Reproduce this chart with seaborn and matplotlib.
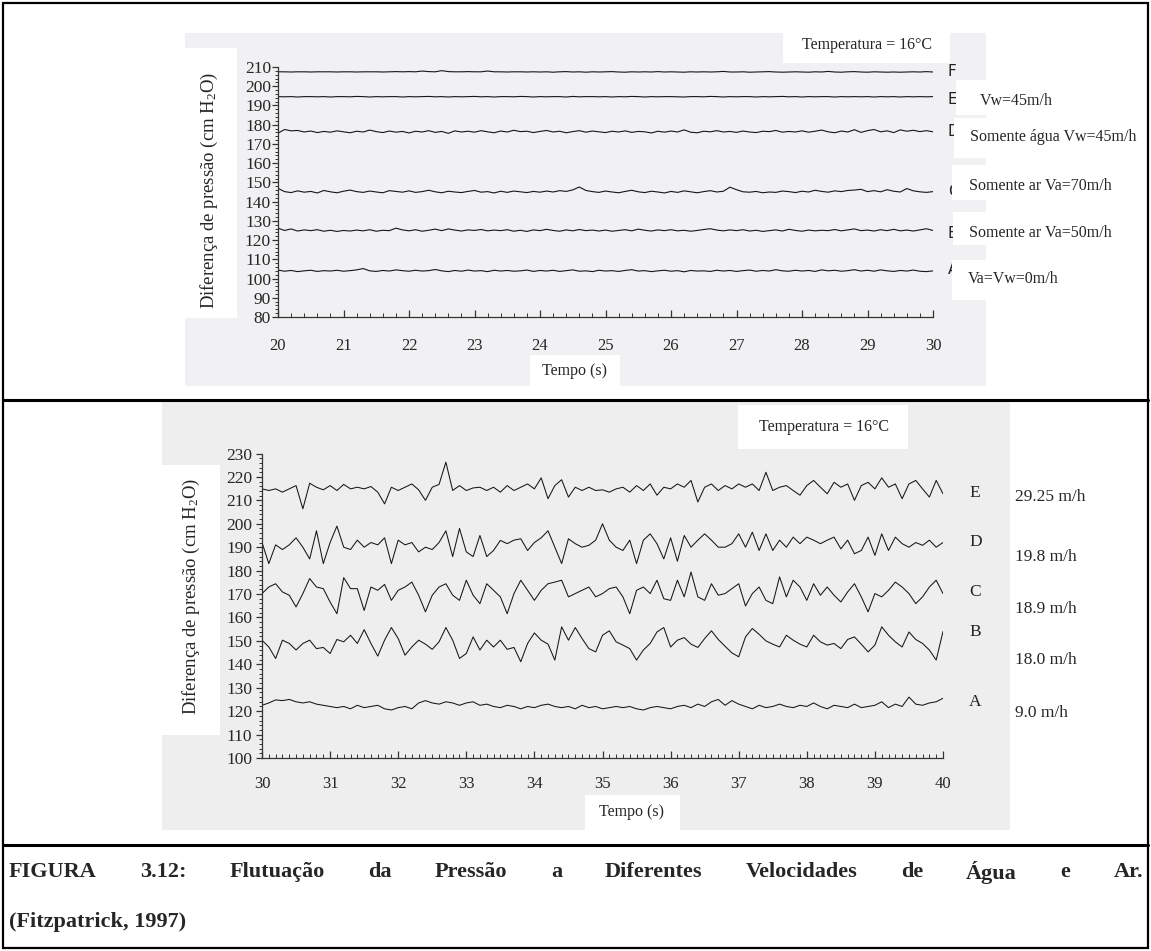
import numpy as np
import pandas as pd
import matplotlib
matplotlib.use("Agg")
import matplotlib.pyplot as plt
import seaborn as sns
from matplotlib.patches import Rectangle
from matplotlib.ticker import MultipleLocator

# ---------------- data ----------------
top_time = np.round(np.arange(20.0, 30.001, 0.1), 1)
top_F = [207.5, 207.5, 207.4, 207.5, 207.5, 207.4, 207.5, 207.5, 207.5, 207.4,
         207.5, 207.5, 207.4, 207.5, 207.5, 207.5, 207.4, 207.5, 207.6, 207.5,
         207.6, 207.5, 207.9, 207.6, 207.5, 208.1, 207.6, 207.5, 207.5, 207.6,
         207.5, 207.5, 207.9, 207.5, 207.5, 207.4, 207.5, 207.5, 207.4, 207.5,
         207.4, 207.5, 207.3, 207.5, 207.6, 207.4, 207.5, 207.3, 207.5, 207.4,
         207.5, 207.6, 207.4, 207.3, 207.5, 207.4, 207.5, 207.4, 207.6, 207.4,
         207.5, 207.4, 207.3, 207.5, 207.4, 207.5, 207.4, 207.5, 207.7, 207.4,
         207.4, 207.5, 207.3, 207.4, 207.5, 207.6, 207.4, 207.3, 207.4, 207.5,
         207.4, 207.3, 207.5, 207.4, 207.7, 207.4, 207.3, 207.5, 207.6, 207.4,
         207.3, 207.5, 207.4, 207.3, 207.4, 207.3, 207.4, 207.5, 207.4, 207.6,
         207.4]
top_E = [194.6, 194.5, 194.6, 194.4, 194.6, 194.6, 194.5, 194.6, 194.4, 194.6,
         194.6, 194.5, 194.7, 194.6, 194.4, 194.6, 194.5, 194.6, 194.6, 194.4,
         194.6, 194.5, 194.6, 194.7, 194.5, 194.6, 194.4, 194.6, 194.5, 194.6,
         194.7, 194.5, 194.6, 194.4, 194.6, 194.6, 194.5, 194.7, 194.6, 194.4,
         194.6, 194.5, 194.6, 194.6, 194.4, 194.7, 194.5, 194.6, 194.6, 194.5,
         194.6, 194.4, 194.6, 194.5, 194.7, 194.6, 194.4, 194.6, 194.5, 194.6,
         194.6, 194.5, 194.4, 194.6, 194.6, 194.5, 194.7, 194.6, 194.4, 194.6,
         194.5, 194.6, 194.6, 194.4, 194.6, 194.5, 194.6, 194.7, 194.5, 194.6,
         194.4, 194.6, 194.5, 194.6, 194.6, 194.4, 194.6, 194.5, 194.6, 194.5,
         194.6, 194.4, 194.6, 194.5, 194.6, 194.4, 194.6, 194.5, 194.6, 194.5,
         194.6]
top_D = [175.6, 177.5, 176.8, 177.0, 176.2, 176.7, 175.9, 176.5, 176.1, 176.8,
         176.3, 175.8, 176.6, 176.2, 177.2, 176.4, 175.9, 176.7, 176.1, 176.5,
         175.7, 176.6, 176.2, 176.9, 176.0, 176.5, 175.5, 176.8, 176.2, 176.6,
         176.1, 176.9, 176.3, 175.8, 176.7, 176.2, 177.1, 176.4, 176.6, 175.9,
         176.5, 177.0, 176.2, 176.6, 175.8, 176.4, 176.9, 176.1, 176.7, 176.3,
         175.9, 176.6, 176.2, 176.8, 176.0, 176.5, 176.3, 175.7, 176.6, 176.1,
         176.7, 176.2, 177.3, 176.1, 175.8, 176.6, 176.3, 176.9, 176.2, 176.5,
         176.0, 176.7, 176.2, 175.9, 176.6, 176.4, 177.0, 176.1, 176.5, 176.2,
         176.8, 176.1, 176.6, 177.2, 176.3, 175.8, 176.7, 176.2, 177.4, 176.0,
         176.9, 177.5, 176.3, 176.8, 175.9, 177.3, 176.6, 177.1, 176.4, 176.9,
         176.3]
top_C = [146.9, 145.2, 144.7, 145.6, 144.9, 145.3, 144.5, 145.8, 145.1, 144.6,
         145.4, 146.0, 145.2, 144.8, 145.5, 145.0, 144.6, 145.7, 145.3, 144.9,
         145.6, 144.8, 145.2, 145.9, 145.1, 144.6, 145.4, 145.0, 144.7, 145.3,
         145.8, 144.9, 145.2, 144.5, 145.4, 144.8, 145.5, 145.1, 144.7, 145.3,
         144.9, 145.5, 145.0, 145.7, 145.3, 146.1, 147.6, 145.8, 145.2, 144.8,
         145.5, 145.0, 144.6, 145.3, 145.9, 145.1, 144.7, 145.4, 145.0, 144.5,
         145.3, 144.8, 145.6, 145.1, 144.6, 145.2, 145.7, 145.0, 145.4, 147.5,
         146.2, 145.1, 144.9, 145.3, 144.6, 145.0, 144.8, 145.5, 145.2, 144.7,
         145.4, 145.0, 145.9, 145.3, 144.9, 145.6, 145.2, 145.8, 146.0, 146.4,
         145.2, 145.7, 145.1, 146.2, 145.4, 145.0, 146.8, 145.6, 145.1, 144.8,
         145.2]
top_B = [126.2, 125.0, 125.8, 124.7, 125.3, 124.9, 125.4, 124.6, 125.1, 124.5,
         125.0, 124.7, 125.2, 124.8, 125.4, 124.6, 125.1, 124.9, 126.2, 125.3,
         124.8, 125.4, 124.6, 125.1, 125.7, 124.9, 125.8, 125.2, 124.7, 125.3,
         125.0, 125.5, 124.8, 125.2, 124.9, 125.4, 124.6, 125.1, 124.5, 125.3,
         124.9, 125.6, 125.0, 124.6, 125.3, 124.8, 125.5, 124.9, 125.2, 124.7,
         125.2, 124.6, 125.0, 125.4, 124.8, 125.7, 125.1, 124.7, 125.3, 124.9,
         125.4, 124.8, 125.1, 124.6, 125.0, 125.5, 125.9, 125.2, 124.8, 125.3,
         124.9, 125.4, 124.7, 125.1, 124.5, 124.9, 125.3, 124.7, 125.6, 125.0,
         124.6, 125.2, 124.8, 125.1, 124.9, 125.5, 124.8, 125.3, 125.8, 124.9,
         125.2, 124.7, 125.4, 124.9, 125.6, 124.8, 125.2, 124.7, 125.3, 125.9,
         125.0]
top_A = [104.4, 103.8, 104.2, 103.6, 104.0, 104.3, 103.7, 104.1, 103.9, 104.3,
         103.8, 104.1, 104.5, 105.2, 104.0, 103.7, 104.2, 103.9, 104.5, 104.1,
         103.8, 104.3, 103.9, 104.1, 104.7, 104.0, 103.6, 104.2, 103.8, 104.4,
         103.9, 104.1, 103.6, 104.3, 103.9, 104.2, 103.8, 104.0, 104.4, 103.7,
         104.2, 103.9, 104.3, 103.7, 104.1, 104.5, 103.8, 104.0, 103.6, 104.3,
         103.9, 104.1, 103.7, 104.2, 104.6, 103.9, 104.1, 103.6, 104.0, 104.3,
         103.8, 104.1, 103.5, 104.2, 103.9, 104.0, 103.7, 104.3, 103.9, 104.2,
         103.7, 104.1, 104.4, 103.8, 104.2, 103.9, 104.6, 104.0, 103.8, 104.3,
         103.9, 104.2, 103.7, 104.5, 104.0, 104.3, 103.8, 104.1, 104.6, 103.9,
         104.3, 103.8, 104.5, 104.0, 103.7, 104.2, 103.9, 104.4, 103.8, 103.6,
         104.0]

bot_time = np.round(np.arange(30.0, 40.001, 0.1), 1)
bot_E = [214.9, 214.2, 214.9, 213.5, 214.9, 216.3, 206.4, 217.3, 215.6, 214.5,
         216.3, 214.2, 216.8, 214.9, 215.6, 214.9, 215.9, 213.5, 208.5, 215.6,
         214.2, 215.6, 217.0, 214.5, 210.0, 215.6, 216.8, 226.3, 214.2, 216.3,
         214.2, 215.3, 215.6, 214.2, 215.6, 213.5, 216.3, 214.2, 215.6, 217.0,
         214.9, 219.6, 210.7, 216.3, 218.8, 211.4, 215.6, 214.2, 215.6, 214.2,
         214.5, 213.5, 214.9, 215.6, 213.5, 216.3, 214.2, 217.0, 212.2, 215.6,
         214.9, 217.0, 215.6, 218.5, 209.3, 215.6, 217.0, 214.2, 216.3, 214.9,
         217.0, 215.6, 217.0, 214.2, 222.0, 214.2, 215.6, 216.3, 214.2, 212.2,
         216.3, 218.5, 215.6, 212.8, 217.7, 215.6, 217.0, 210.0, 216.3, 217.7,
         214.9, 219.6, 215.6, 217.0, 210.7, 217.0, 218.5, 214.9, 211.4, 218.5,
         212.8]
bot_D = [192, 183, 191, 189, 191, 194, 190, 185, 197, 183,
         192, 199, 190, 189, 193, 190, 192, 191, 194, 183,
         193, 191, 192, 188, 190, 189, 192, 197, 186, 198,
         188, 186, 195, 186, 188.6, 192.9, 191.5, 193, 193.6, 188.6,
         192, 194, 197, 190, 183, 193.6, 191.5, 190, 190.8, 193,
         200, 193, 190, 188.6, 193, 183, 193, 195.7, 191.5, 185,
         194, 184, 195, 190, 193, 195.7, 193, 190, 190, 191.5,
         195.7, 190, 196.4, 188.6, 195.7, 188.6, 193, 190, 194.3, 191.5,
         194.3, 193, 191.5, 193, 194.3, 189.3, 193, 187.2, 188.6, 194.3,
         186.5, 195.7, 188.6, 194.3, 191.5, 190, 192, 190.8, 193, 190,
         192]
bot_C = [170.2, 173, 174.4, 170.9, 169.5, 164.5, 170.2, 176.6, 173, 172.3,
         166.6, 161.6, 177, 172.3, 172.3, 163, 173, 171.6, 174.1, 167.3,
         171.6, 173, 175.1, 169.5, 162.4, 169.5, 173, 174.4, 169.5, 167.3,
         175.9, 169.5, 165.9, 174.4, 171.6, 168.8, 161.6, 170.2, 175.9, 171.6,
         167.3, 171.6, 174.4, 175.1, 175.9, 168.8, 170.2, 171.6, 173, 168.8,
         170.2, 172.3, 173, 168.8, 161.6, 171.6, 173, 170.2, 175.9, 168,
         167.3, 175.9, 168.8, 179.4, 168.8, 167.3, 174.4, 169.5, 170.2, 172.3,
         174.4, 164.9, 170.2, 173, 167.3, 165.9, 177.3, 168.8, 175.9, 173,
         167.3, 174.4, 169.5, 173, 169.5, 166.6, 170.9, 174.4, 168.8, 162.4,
         170.2, 168.8, 171.6, 175.1, 173, 170.2, 165.9, 168.8, 173, 175.9,
         170.2]
bot_B = [150.3, 147.4, 142.5, 150.3, 148.9, 146.1, 148.9, 150.3, 146.7, 147.2,
         144.6, 150.6, 149.6, 152.4, 148.9, 154.8, 148.9, 143.5, 150.3, 155.7,
         151, 143.9, 147.4, 150.3, 148.6, 146.4, 149.6, 155.7, 150.3, 142.5,
         144.6, 151.7, 146.1, 150.3, 147.4, 150.3, 146.4, 147.2, 141.1, 148.9,
         153.4, 150.3, 148.6, 141.8, 156, 150.3, 155.7, 151, 146.7, 145.3,
         152.4, 154.3, 149.6, 148.2, 146.7, 141.8, 146.1, 148.9, 153.8, 155.7,
         147.4, 150.3, 151.4, 148.6, 147.2, 151, 154.3, 150.6, 147.7, 144.9,
         143.2, 151.7, 155.3, 152.8, 150, 148.6, 147.4, 152.4, 150.3, 148.6,
         147.4, 152.4, 149.6, 148.2, 148.9, 146.7, 150.6, 151.7, 148.6, 145.3,
         148.2, 156, 152.4, 149.6, 147.4, 153.8, 150.6, 148.9, 146.1, 141.8,
         154]
bot_A = [122.5, 123.5, 124.8, 124.5, 125, 124, 123.5, 124, 123, 122.5,
         122, 121.5, 122, 121, 122.5, 121.5, 122, 122.5, 121, 120.5,
         121.5, 122, 121, 123.5, 124.5, 123.5, 123, 124, 123.5, 122.5,
         123.5, 124, 122.5, 123, 122, 121.5, 122.5, 122, 121, 122,
         121.5, 122.5, 123, 122, 121.5, 122, 121, 122.5, 121.5, 122,
         121, 121.5, 122, 121.5, 122, 121, 120.5, 121.5, 122, 121.5,
         121, 122, 122.5, 121.5, 123, 122, 124, 125, 122.5, 124.5,
         123, 122, 121, 122.5, 121.5, 122, 123, 122, 121.5, 122.5,
         122, 123.5, 122, 121, 122.5, 122, 121.5, 123, 121.5, 122,
         122.5, 124, 121.5, 123, 122, 126, 123, 122.5, 123.5, 124,
         125.5]

top_letters = ["F", "E", "D", "C", "B", "A"]
top_notes = ["Vw=45m/h", "Somente água Vw=45m/h", "Somente ar Va=70m/h",
             "Somente ar Va=50m/h", "Va=Vw=0m/h"]
bot_letters = ["E", "D", "C", "B", "A"]
bot_notes = ["29.25 m/h", "19.8 m/h", "18.9 m/h", "18.0 m/h", "9.0 m/h"]
ylabel = "Diferença de pressão (cm H$_2$O)"
xlabel = "Tempo (s)"
temp_text = "Temperatura = 16°C"
caption_1 = "FIGURA 3.12: Flutuação da Pressão a Diferentes Velocidades de Água e Ar."
caption_2 = "(Fitzpatrick, 1997)"

# ---------------- figure ----------------
W, H = 1151, 951
sns.set_theme(style="white")
plt.rcParams["font.family"] = ["Liberation Serif", "DejaVu Serif"]
plt.rcParams["mathtext.fontset"] = "custom"
plt.rcParams["mathtext.rm"] = "Liberation Serif"
plt.rcParams["mathtext.it"] = "Liberation Serif:italic"

fig = plt.figure(figsize=(W / 100, H / 100), dpi=100)
fig.patch.set_facecolor("white")


def frac_box(x0, y0, x1, y1):
    return [x0 / W, 1 - y1 / H, (x1 - x0) / W, (y1 - y0) / H]


bg = fig.add_axes([0, 0, 1, 1], zorder=-5)
bg.set_xlim(0, W)
bg.set_ylim(H, 0)
bg.axis("off")

ov = fig.add_axes([0, 0, 1, 1], zorder=10)
ov.set_xlim(0, W)
ov.set_ylim(H, 0)
ov.axis("off")
ov.patch.set_alpha(0)


def rect(ax, x0, y0, x1, y1, color, z=1):
    ax.add_patch(Rectangle((x0, y0), x1 - x0, y1 - y0, facecolor=color,
                           edgecolor="none", zorder=z))


# scanned-paper backgrounds
rect(bg, 185, 33, 986, 386, "#f1f1f3")
rect(bg, 162, 402, 1010, 830, "#eeeeef")
rect(bg, 180, 48, 237, 318, "white", 2)
rect(bg, 162, 465, 220, 735, "white", 2)

line_color = "#161616"


def style_axes(ax, xmin, xmax, ymin, ymax, ystep, xminor, yminor, xpad, ypad):
    ax.set_xlim(xmin, xmax)
    ax.set_ylim(ymin, ymax)
    ax.patch.set_alpha(0)
    for s in ["top", "right"]:
        ax.spines[s].set_visible(False)
    for s in ["left", "bottom"]:
        ax.spines[s].set_color("#333333")
        ax.spines[s].set_linewidth(0.9)
    ax.xaxis.set_major_locator(MultipleLocator(1))
    ax.xaxis.set_minor_locator(MultipleLocator(xminor))
    ax.yaxis.set_major_locator(MultipleLocator(ystep))
    ax.yaxis.set_minor_locator(MultipleLocator(yminor))
    ax.tick_params(axis="x", which="both", direction="in", color="#333333",
                   labelsize=12, pad=xpad, bottom=True)
    ax.tick_params(axis="x", which="major", length=5, width=0.9)
    ax.tick_params(axis="x", which="minor", length=3, width=0.7)
    ax.tick_params(axis="y", which="both", direction="out", color="#333333",
                   labelsize=12.5, pad=ypad, left=True)
    ax.tick_params(axis="y", which="major", length=4, width=0.9)
    ax.tick_params(axis="y", which="minor", length=2.5, width=0.7)
    ax.set_xlabel("")
    ax.set_ylabel("")
    ax.grid(False)


# ---------- top panel ----------
ax1 = fig.add_axes(frac_box(278, 67, 933, 317))
top_df = pd.DataFrame({"t": top_time, "F": top_F, "E": top_E, "D": top_D,
                       "C": top_C, "B": top_B, "A": top_A})
for key in top_letters:
    sns.lineplot(data=top_df, x="t", y=key, ax=ax1, color=line_color,
                 linewidth=0.8)
style_axes(ax1, 20, 30, 80, 210, 10, 0.2, 2, 15, 1)

# ---------- bottom panel ----------
ax2 = fig.add_axes(frac_box(262, 453.5, 943, 758))
bot_df = pd.DataFrame({"t": bot_time, "E": bot_E, "D": bot_D, "C": bot_C,
                       "B": bot_B, "A": bot_A})
for key in bot_letters:
    sns.lineplot(data=bot_df, x="t", y=key, ax=ax2, color=line_color,
                 linewidth=0.75)
style_axes(ax2, 30, 40, 100, 230, 10, 0.1, 2, 13, 3)

# ---------- y labels ----------
ov.text(209, 190, ylabel, rotation=90, ha="center", va="center", fontsize=13.5)
ov.text(191, 596, ylabel, rotation=90, ha="center", va="center", fontsize=13.5)

# ---------- x labels with white boxes ----------
rect(ov, 530, 355, 620, 386, "white", 1)
ov.text(575, 371, xlabel, ha="center", va="center", fontsize=11.5, zorder=3)
rect(ov, 585, 795, 680, 830, "white", 1)
ov.text(632, 812, xlabel, ha="center", va="center", fontsize=11.5, zorder=3)

# ---------- temperature boxes ----------
rect(ov, 783, 30, 950, 63, "white", 1)
ov.text(867, 45, temp_text, ha="center", va="center", fontsize=11.5, zorder=3)
rect(ov, 738, 405, 908, 449, "white", 1)
ov.text(824, 427, temp_text, ha="center", va="center", fontsize=11.5, zorder=3)

# ---------- top right letters and notes ----------
top_letter_y = [72, 100, 132, 192, 233, 270]
for lab, yy in zip(top_letters, top_letter_y):
    ov.text(948, yy, lab, ha="left", va="center", fontsize=11,
            family="DejaVu Sans", color="#222222", zorder=2)
top_box = [(956, 80, 115), (954, 118, 158), (952, 165, 200), (953, 212, 245),
           (952, 260, 300)]
top_note_xy = [(980, 101), (970, 137), (969, 186), (969, 233), (968, 279)]
for note, (bx, by0, by1), (tx, ty) in zip(top_notes, top_box, top_note_xy):
    rect(ov, bx, by0, 1090, by1, "white", 3)
    ov.text(tx, ty, note, ha="left", va="center", fontsize=11.5, zorder=4)

# ---------- bottom right letters and notes ----------
bot_letter_y = [493, 542, 592, 632, 702]
for lab, yy in zip(bot_letters, bot_letter_y):
    ov.text(969, yy, lab, ha="left", va="center", fontsize=12.5,
            color="#222222", zorder=2)
bot_note_y = [497, 557, 609, 660, 713]
for note, yy in zip(bot_notes, bot_note_y):
    ov.text(1015, yy, note, ha="left", va="center", fontsize=12.5, zorder=4)

# ---------- frame lines ----------
ov.add_patch(Rectangle((3, 3), W - 6, H - 6, fill=False, edgecolor="black",
                       linewidth=1.6, zorder=6))
ov.plot([3, W - 3], [400, 400], color="black", linewidth=2.2, zorder=6)
ov.plot([3, W - 3], [845, 845], color="black", linewidth=2.2, zorder=6)

# ---------- justified caption ----------
words = caption_1.split(" ")
fig.canvas.draw()
renderer = fig.canvas.get_renderer()
objs = []
widths = []
for w_ in words:
    t = ov.text(0, 872, w_, ha="left", va="center", fontsize=16,
                fontweight="bold", zorder=6)
    bb = t.get_window_extent(renderer=renderer)
    objs.append(t)
    widths.append(bb.width)
left, right = 9, 1143
gap = (right - left - sum(widths)) / (len(words) - 1)
xpos = left
for t, wd in zip(objs, widths):
    t.set_x(xpos)
    xpos += wd + gap
ov.text(left, 922, caption_2, ha="left", va="center", fontsize=16,
        fontweight="bold", zorder=6)

fig.savefig("out.png", dpi=100)
